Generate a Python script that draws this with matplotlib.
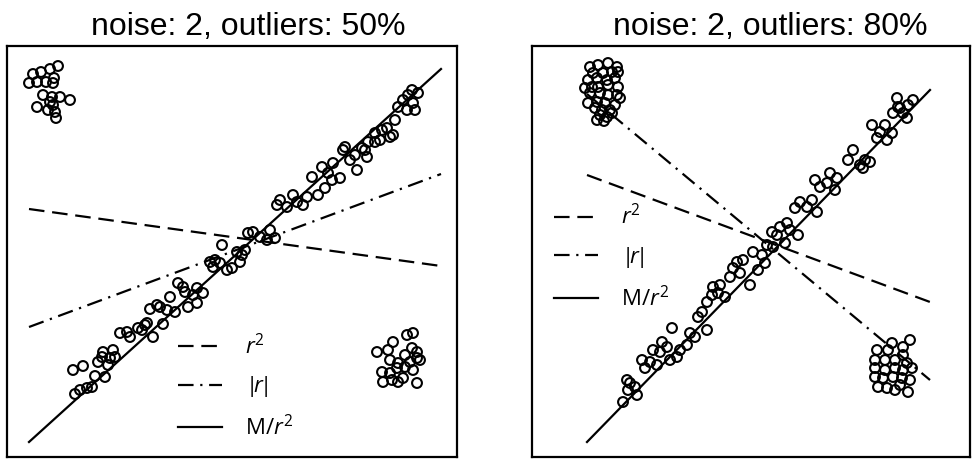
import numpy as np
import matplotlib.pyplot as plt

plt.rcParams['mathtext.fontset'] = 'custom'
plt.rcParams['mathtext.rm'] = 'Open Sans'
plt.rcParams['mathtext.it'] = 'Open Sans:italic'

# ---- left panel: noise 2, outliers 50% ----
left_inliers = np.array([
    (66, 87), (76, 91), (68, 63), (73, 67), (80, 69), (85, 70), (88, 81), (91, 95), (96, 105), (95, 100),
    (103, 99), (106, 107), (101, 92), (98, 80), (108, 100), (113, 124), (120, 125), (123, 120), (131, 129),
    (138, 132), (140, 134), (135, 127), (146, 120), (143, 148), (150, 152), (153, 150), (160, 147), (156, 133),
    (163, 160), (168, 145),
    (171, 174), (176, 170), (178, 165), (186, 162), (190, 169), (196, 164), (181, 150), (190, 154), (203, 195),
    (208, 197), (206, 190), (213, 194), (215, 212), (220, 187), (225, 189), (233, 195), (235, 202), (230, 205),
    (238, 207), (241, 224), (246, 225), (253, 220), (260, 217), (263, 227), (268, 219),
    (270, 252), (273, 257), (280, 250), (286, 262), (290, 255), (296, 252), (300, 260), (305, 280), (311, 262),
    (315, 290), (318, 269), (325, 277), (321, 284), (326, 294), (333, 279), (336, 307), (338, 310), (343, 297),
    (348, 302), (350, 287), (355, 309), (358, 307), (360, 300), (361, 315), (368, 315), (368, 324), (373, 317),
    (375, 327), (380, 329), (383, 320), (386, 322), (388, 337), (391, 350), (396, 357), (400, 347), (401, 362),
    (406, 354), (408, 347), (411, 364), (405, 367)])
left_outliers = np.array([
    (26, 383), (34, 385), (43, 388), (51, 391), (22, 374), (30, 375), (39, 375), (46, 374), (47, 379), (36, 362),
    (45, 360), (53, 360), (63, 357), (30, 350), (41, 347), (46, 352), (48, 345), (49, 339), (43, 355),
    (370, 105), (381, 107), (386, 115), (400, 122), (406, 124), (405, 109), (398, 102), (410, 99), (410, 105),
    (383, 97), (391, 94), (403, 95), (375, 85), (383, 84), (390, 89), (398, 90), (406, 87), (376, 75), (385, 77),
    (391, 75), (410, 74), (396, 79), (413, 97)])
left_line_x = [22, 434]
left_r2 = [248, 191]
left_absr = [130, 283]
left_mr2 = [15, 388]

# ---- right panel: noise 2, outliers 80% ----
right_inliers = np.array([
    (91, 55), (95, 77), (98, 74), (103, 70), (105, 62), (96, 67), (110, 97), (113, 89), (118, 95), (121, 107),
    (125, 92), (130, 115), (128, 105), (135, 110), (140, 129), (138, 97), (145, 100), (148, 107), (155, 112),
    (158, 124), (163, 120), (166, 140), (170, 145), (175, 127),
    (175, 155), (180, 162), (186, 164), (193, 160), (181, 170), (188, 172), (198, 180), (201, 189), (208, 184),
    (205, 195), (211, 197), (218, 172), (221, 205), (226, 187), (230, 202), (233, 194), (235, 212), (240, 225),
    (245, 222), (248, 230), (253, 214), (255, 234), (263, 249), (266, 222), (268, 255), (275, 250), (280, 257),
    (285, 245), (283, 277), (288, 270), (295, 274), (298, 284), (303, 267), (305, 279), (258, 227), (241, 210),
    (316, 297), (321, 307), (328, 292), (331, 289), (333, 297), (338, 295), (340, 332), (345, 319), (348, 325),
    (353, 332), (355, 317), (360, 324), (361, 344), (365, 359), (366, 350), (371, 344), (375, 339), (376, 352),
    (381, 357), (368, 349)])
right_outliers = np.array([
    (58, 390), (66, 392), (76, 394), (85, 390), (86, 385), (61, 384), (71, 384), (80, 385), (56, 377), (65, 379),
    (75, 377), (83, 379), (86, 370), (60, 370), (66, 370), (76, 372), (58, 364), (68, 364), (76, 362), (85, 362),
    (56, 354), (65, 355), (73, 354), (83, 352), (63, 349), (70, 347), (78, 347), (68, 342), (75, 340), (80, 344),
    (88, 359), (53, 369), (65, 337), (72, 336),
    (345, 107), (360, 114), (378, 117), (343, 97), (353, 97), (363, 97), (371, 102), (375, 94), (343, 89),
    (353, 87), (363, 89), (371, 87), (380, 89), (343, 80), (351, 79), (361, 80), (370, 79), (378, 77), (346, 70),
    (355, 69), (363, 67), (376, 65), (368, 72), (356, 107), (371, 110)])
right_line_x = [55, 398]
right_r2 = [282, 155]
right_absr = [363, 77]
right_mr2 = [15, 367]

titles = ['noise: 2, outliers: 50%', 'noise: 2, outliers: 80%']
labels = [r'$r^2$', r'$|\!r\!|$', r'M/$r^2$']

fig = plt.figure(figsize=(9.74, 4.62), dpi=100)
ax1 = fig.add_axes([7 / 974, 5 / 462, 450 / 974, 411 / 462])
ax2 = fig.add_axes([532 / 974, 5 / 462, 438 / 974, 411 / 462])

panels = [
    (ax1, left_inliers, left_outliers, left_line_x, left_r2, left_absr, left_mr2, 450, (0.38, 0.30), 0.536),
    (ax2, right_inliers, right_outliers, right_line_x, right_r2, right_absr, right_mr2, 438, (0.05, 0.615), 0.543),
]

for i, (ax, inl, outl, lx, r2, absr, mr2, width, leg_pos, tx) in enumerate(panels):
    pts = np.vstack([inl, outl])
    ax.scatter(pts[:, 0], pts[:, 1], s=50, facecolors='none', edgecolors='black', linewidths=1.5, zorder=3)
    ax.plot(lx, r2, color='black', lw=1.6, linestyle=(0, (7, 3.5)), label=labels[0])
    ax.plot(lx, absr, color='black', lw=1.6, linestyle=(0, (7, 3, 1, 3)), label=labels[1])
    ax.plot(lx, mr2, color='black', lw=1.6, linestyle='-', label=labels[2])
    ax.set_xlim(0, width)
    ax.set_ylim(0, 411)
    ax.set_xticks([])
    ax.set_yticks([])
    for sp in ax.spines.values():
        sp.set_linewidth(1.6)
    ax.set_title(titles[i], fontsize=23, family='Liberation Sans', pad=8, x=tx)
    ax.legend(loc='upper left', bbox_to_anchor=leg_pos, frameon=False,
              handlelength=2.0, handletextpad=1.0, labelspacing=0.7, borderaxespad=0, borderpad=0,
              prop={'family': 'Open Sans', 'size': 16})

fig.savefig('out.png', dpi=100)
